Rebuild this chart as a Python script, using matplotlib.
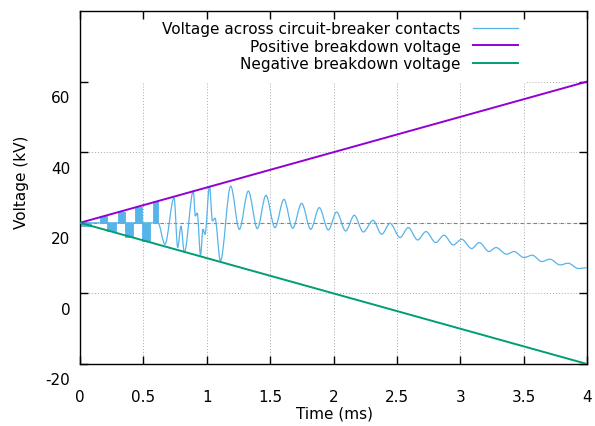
import numpy as np
import matplotlib
matplotlib.use("Agg")
import matplotlib.pyplot as plt
from matplotlib.path import Path
from matplotlib.patches import PathPatch, Rectangle
from matplotlib.lines import Line2D
import matplotlib.transforms as mtransforms

# ---------------- data ----------------
env_time = [0.0, 4.0]
pos_breakdown = [20.0, 60.0]
neg_breakdown = [20.0, -20.0]

# dense restrike bursts (appear as filled bands)
burst_start = [0.010, 0.158, 0.213, 0.300, 0.355, 0.434, 0.489, 0.576]
burst_end = [0.090, 0.213, 0.284, 0.355, 0.418, 0.489, 0.552, 0.615]
burst_low = [19.2, 20.0, 17.6, 20.0, 15.9, 20.0, 14.8, 20.0]
burst_high = [20.0, 21.8, 20.0, 23.0, 20.0, 24.4, 20.0, 26.1]

# transient (restrike) turning points
transient_t = [0.0, 0.615, 0.670, 0.742, 0.771, 0.797, 0.823, 0.894, 0.910,
               0.925, 0.951, 0.970, 0.986, 1.022, 1.045, 1.065, 1.108]
transient_v = [20.0, 20.0, 13.9, 27.1, 13.0, 19.1, 11.6, 29.0, 21.9,
               22.8, 10.8, 18.2, 16.7, 30.4, 20.5, 21.3, 9.2]

# damped recovery oscillation: peaks and troughs
peak_t = [1.189, 1.328, 1.467, 1.609, 1.749, 1.888, 2.025, 2.164, 2.312, 2.446,
          2.590, 2.730, 2.872, 3.011, 3.150, 3.282, 3.424, 3.568, 3.708, 3.852]
peak_v = [30.40, 28.99, 27.77, 26.64, 25.51, 24.30, 23.05, 22.12, 20.71, 19.86,
          18.64, 17.51, 16.47, 15.34, 14.40, 12.99, 11.86, 10.81, 9.68, 8.55]
trough_t = [1.257, 1.399, 1.538, 1.678, 1.820, 1.959, 2.096, 2.235, 2.380, 2.525,
            2.664, 2.806, 2.945, 3.090, 3.227, 3.366, 3.503, 3.643, 3.787, 3.931]
trough_v = [18.16, 18.36, 18.64, 18.45, 18.16, 17.96, 17.68, 17.40, 16.75, 15.82,
            15.14, 14.40, 13.73, 12.71, 11.86, 11.10, 10.16, 9.03, 8.07, 7.05]
end_t = [4.0]
end_v = [7.28]

x_ticks = [0, 0.5, 1, 1.5, 2, 2.5, 3, 3.5, 4]
x_tick_labels = ["0", "0.5", "1", "1.5", "2", "2.5", "3", "3.5", "4"]
y_ticks = [-20, 0, 20, 40, 60]
y_tick_labels = ["-20", "0", "20", "40", "60"]

labels = ["Voltage across circuit-breaker contacts",
          "Positive breakdown voltage",
          "Negative breakdown voltage"]

# ---------------- style ----------------
BLUE = "#56b4e9"
PURPLE = "#9400d3"
GREEN = "#009e73"

plt.rcParams["font.family"] = ["DejaVu Sans"]
plt.rcParams["font.size"] = 11

fig = plt.figure(figsize=(5.95, 4.27), dpi=100)
ax = fig.add_axes([80 / 595, 62 / 427, 507 / 595, 353 / 427])
ax.set_xlim(0, 4)
ax.set_ylim(-20, 80)

# grid (drawn manually so the key area can mask it)
grid_x = [v for v in x_ticks if 0 < v < 4]
grid_y = [v for v in y_ticks if -20 < v < 80]
ax.vlines(grid_x, -20, 80, colors="#a8a8a8", linestyles=(0, (1, 2)), lw=0.7, zorder=0.5)
ax.hlines(grid_y, 0, 4, colors="#a8a8a8", linestyles=(0, (1, 2)), lw=0.7, zorder=0.5)
ax.axhline(20, color="#808080", ls=(0, (3, 3)), lw=0.8, zorder=0.6)

# opaque key area
ax.add_patch(Rectangle((0, 0.796), 0.880, 0.204, transform=ax.transAxes,
                       fc="white", ec="none", zorder=1))

# bursts
for t0, t1, lo, hi in zip(burst_start, burst_end, burst_low, burst_high):
    ax.fill_between([t0, t1], [lo, lo], [hi, hi], color=BLUE, lw=0.6, zorder=2)

# oscillating voltage, smooth between turning points
pts_t = np.concatenate([transient_t, peak_t, trough_t, end_t])
pts_v = np.concatenate([transient_v, peak_v, trough_v, end_v])
order = np.argsort(pts_t, kind="stable")
pts_t = pts_t[order]
pts_v = pts_v[order]
verts = [(pts_t[0], pts_v[0])]
codes = [Path.MOVETO]
for i in range(len(pts_t) - 1):
    t0, v0, t1, v1 = pts_t[i], pts_v[i], pts_t[i + 1], pts_v[i + 1]
    dt = t1 - t0
    verts += [(t0 + dt / 3, v0), (t1 - dt / 3, v1), (t1, v1)]
    codes += [Path.CURVE4] * 3
ax.add_patch(PathPatch(Path(verts, codes), fc="none", ec=BLUE, lw=0.9, zorder=3))

ax.plot(env_time, pos_breakdown, color=PURPLE, lw=1.4, zorder=4)
ax.plot(env_time, neg_breakdown, color=GREEN, lw=1.4, zorder=4)

# axes / ticks
for s in ax.spines.values():
    s.set_linewidth(1.0)
ax.tick_params(direction="in", length=5.8, width=1.0, top=True, right=True,
               labelsize=11)
ax.tick_params(axis="x", pad=18)
ax.tick_params(axis="y", pad=7)
ax.set_xticks(x_ticks, x_tick_labels)
ax.set_yticks(y_ticks, y_tick_labels)
off = mtransforms.ScaledTranslation(0, -14.5 / 100, fig.dpi_scale_trans)
for lab in ax.get_yticklabels():
    lab.set_transform(lab.get_transform() + off)

ax.set_xlabel("Time (ms)", fontsize=11)
ax.set_ylabel("Voltage (kV)", fontsize=11)
ax.xaxis.set_label_coords((335 - 80) / 507, (365 - 414) / 353)
ax.yaxis.set_label_coords((22 - 80) / 507, (365 - 182) / 353)
ax.xaxis.label.set_va("center")
ax.yaxis.label.set_va("center")

handles = [Line2D([], [], color=BLUE, lw=0.9),
           Line2D([], [], color=PURPLE, lw=1.4),
           Line2D([], [], color=GREEN, lw=1.4)]
leg = ax.legend(handles, labels, loc="upper right",
                bbox_to_anchor=((518 - 80) / 507, (365 - 22) / 353),
                markerfirst=False, frameon=False, borderpad=0, borderaxespad=0,
                handlelength=2.95, handletextpad=0.8, labelspacing=0.18,
                fontsize=11)

fig.savefig("out.png", dpi=100)
